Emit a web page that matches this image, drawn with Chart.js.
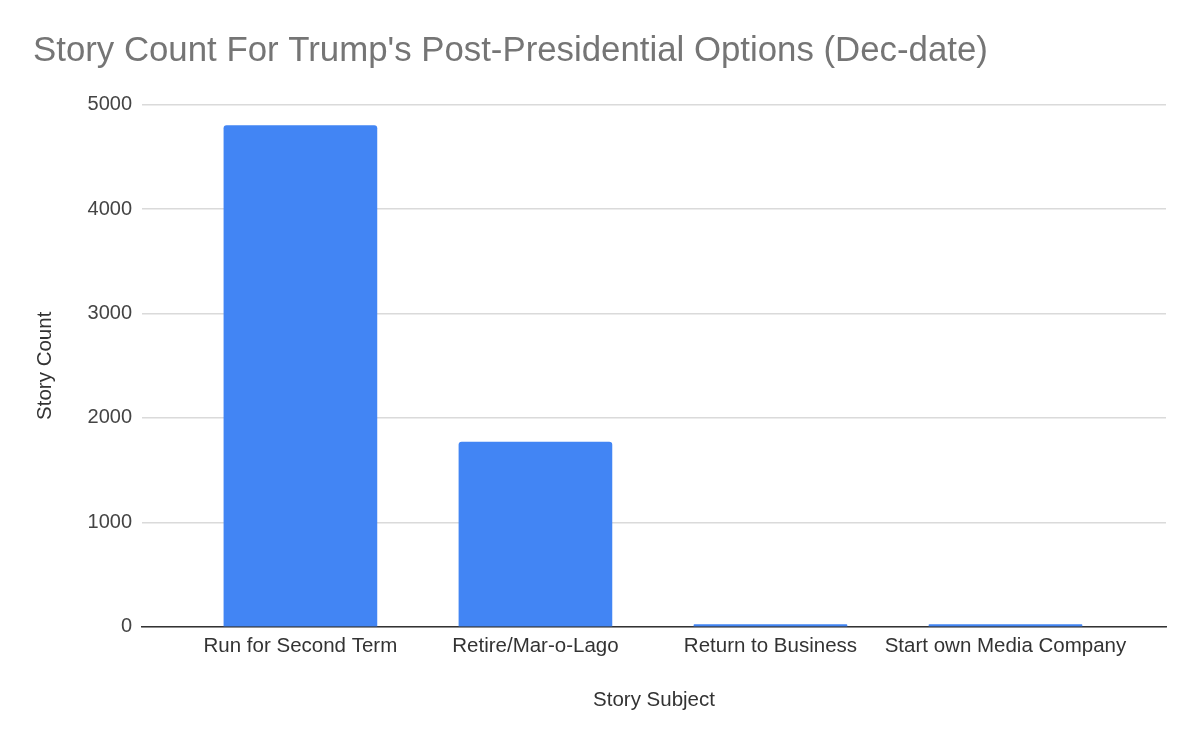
<!DOCTYPE html>
<html>
<head>
<meta charset="utf-8">
<script src="https://cdn.jsdelivr.net/npm/chart.js@4"></script>
<style>
  html, body { margin: 0; padding: 0; background: #fff; }
  #wrap { width: 1200px; height: 745px; }
</style>
</head>
<body>
<div id="wrap"><canvas id="storyChart" width="1200" height="745"></canvas></div>
<script>
// Data
const categories = ['Run for Second Term', 'Retire/Mar-o-Lago', 'Return to Business', 'Start own Media Company'];
const storyCounts = [4800, 1770, 22, 22];
const yTicks = [0, 1000, 2000, 3000, 4000, 5000];

const FONT = 'Arial, "Liberation Sans", sans-serif';

const ctx = document.getElementById('storyChart').getContext('2d');
const storyChart = new Chart(ctx, {
    type: 'bar',
    data: {
        datasets: [{
            label: 'Story Count',
            data: storyCounts.map((v, i) => ({ x: i, y: v })),
            backgroundColor: '#4285F4',
            borderRadius: 3,
            borderSkipped: 'bottom',
            barThickness: 153
        }]
    },
    options: {
        responsive: false,
        animation: false,
        layout: { padding: { left: 33, right: 34, top: 0, bottom: 32 } },
        plugins: {
            legend: { display: false },
            tooltip: { enabled: false },
            title: {
                display: true,
                text: "Story Count For Trump's Post-Presidential Options (Dec-date)",
                align: 'start',
                color: '#757575',
                font: { family: FONT, size: 34.8, weight: 'normal' },
                padding: { top: 31, bottom: 32 }
            }
        },
        scales: {
            x: {
                type: 'linear',
                offset: false,
                min: -0.674,
                max: 3.683,
                afterBuildTicks: (scale) => {
                    scale.ticks = categories.map((c, i) => ({ value: i }));
                },
                ticks: {
                    autoSkip: false,
                    maxRotation: 0,
                    padding: 7,
                    color: '#333',
                    font: { family: FONT, size: 20.5 },
                    callback: (value) => categories[value]
                },
                grid: { display: false, drawTicks: false, offset: false },
                border: { display: true, color: '#333', width: 1.5 },
                title: {
                    display: true,
                    text: 'Story Subject',
                    color: '#333',
                    font: { family: FONT, size: 20.5 },
                    padding: { top: 23, bottom: 0 }
                }
            },
            y: {
                min: 0,
                max: 5000,
                afterBuildTicks: (scale) => {
                    scale.ticks = yTicks.map(v => ({ value: v }));
                },
                afterFit: (scale) => { scale.width = 109; },
                ticks: {
                    padding: 10,
                    color: '#444',
                    font: { family: FONT, size: 20 },
                    callback: (value) => String(value)
                },
                grid: { color: '#dadada', lineWidth: 1.5, drawTicks: false },
                border: { display: false },
                title: {
                    display: true,
                    text: 'Story Count',
                    color: '#333',
                    font: { family: FONT, size: 20.5 },
                    padding: 0
                }
            }
        }
    }
});
</script>
</body>
</html>
